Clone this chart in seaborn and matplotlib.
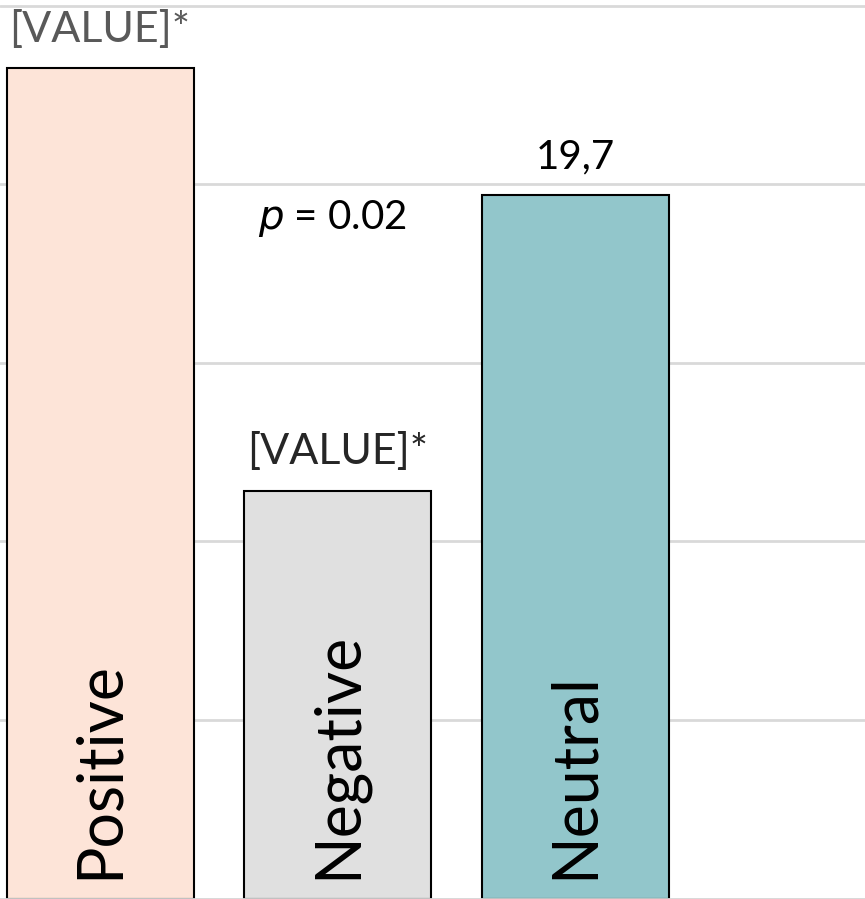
import matplotlib
matplotlib.use("Agg")
import matplotlib.pyplot as plt
import seaborn as sns
import pandas as pd

# data
categories = ["Positive", "Negative", "Neutral"]
values = [23.25, 11.41, 19.7]
value_labels = ["[VALUE]*", "[VALUE]*", "19,7"]
label_colors = ["#595959", "#262626", "#000000"]
bar_colors = ["#FDE4D8", "#E0E0E0", "#92C6CB"]
p_text = "0.02"

sns.set_theme(style="white")
plt.rcParams["font.family"] = ["Lato", "DejaVu Sans"]

df = pd.DataFrame({"category": categories, "value": values})

fig = plt.figure(figsize=(8.65, 8.99), dpi=100)
ax = fig.add_axes([0, 0, 1, 1])

sns.barplot(data=df, x="category", y="value", hue="category",
            palette=bar_colors, order=categories, width=0.787,
            saturation=1, edgecolor="black", linewidth=1.5,
            legend=False, ax=ax)

ax.set_xlim(-0.421, 3.22)
ax.set_ylim(-0.01, 25.16)
ax.set_yticks([0, 5, 10, 15, 20, 25])
ax.yaxis.grid(True, color="#D9D9D9", linewidth=2)
ax.set_axisbelow(True)
for s in ["left", "right", "top"]:
    ax.spines[s].set_visible(False)
ax.spines["bottom"].set_color("#D9D9D9")
ax.spines["bottom"].set_linewidth(2)
ax.set_xlabel("")
ax.set_ylabel("")
ax.set_xticks([])
ax.set_yticklabels([])
ax.tick_params(left=False, bottom=False)

# value labels above the bars
for i, (v, lab, c) in enumerate(zip(values, value_labels, label_colors)):
    fs = 31 if lab.startswith("[") else 29
    ax.text(i, v + 0.55, lab, ha="center", va="bottom", fontsize=fs, color=c)

# category names written inside the bars
for i, cat in enumerate(categories):
    ax.text(i, 0.55, cat, rotation=90, ha="center", va="bottom",
            fontsize=45, color="black")

ax.text(0.98, 19.05, "$p$ = " + p_text, ha="center", va="center",
        fontsize=29, color="black")

fig.savefig("out.png", dpi=100)
